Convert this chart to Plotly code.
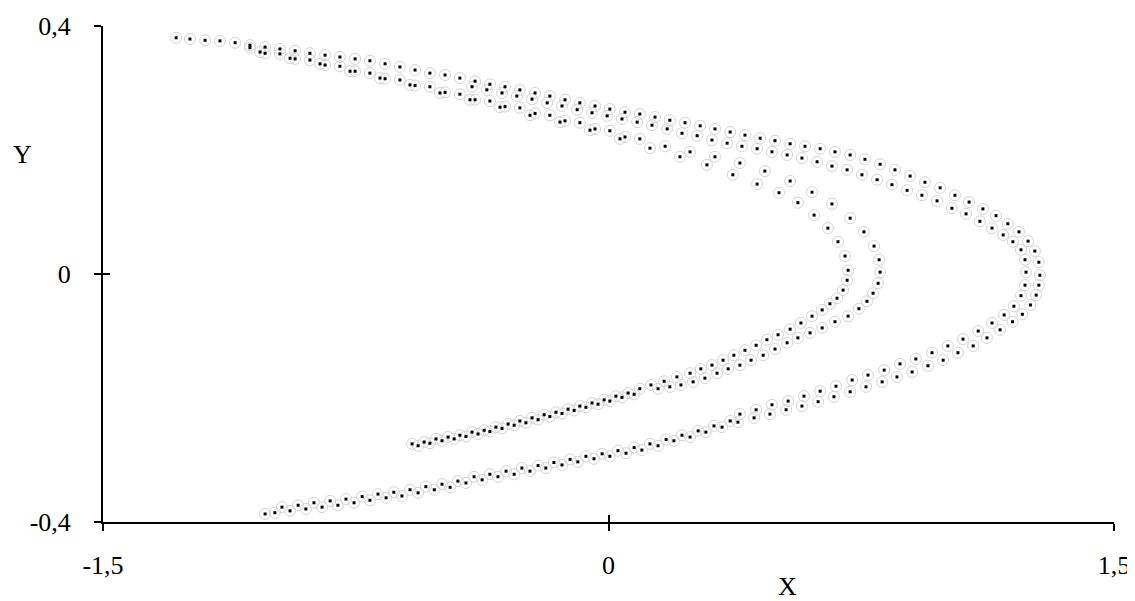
import plotly.graph_objects as go

# outermost strand, upper arm (tip -> apex)
a_up_x = [-1.283, -1.242, -1.197, -1.153, -1.108, -1.064, -1.019, -0.975, -0.930, -0.886,
          -0.841, -0.797, -0.752, -0.708, -0.663, -0.619, -0.574, -0.530, -0.485, -0.441,
          -0.396, -0.352, -0.307, -0.263, -0.218, -0.174, -0.129, -0.085, -0.040, 0.004,
          0.049, 0.093, 0.138, 0.182, 0.227, 0.272, 0.316, 0.361, 0.405, 0.450,
          0.494, 0.539, 0.583, 0.628, 0.672, 0.717, 0.761, 0.806, 0.850, 0.895,
          0.939, 0.984, 1.028, 1.070, 1.111, 1.150, 1.185, 1.218, 1.245, 1.265, 1.277]
a_up_y = [0.381, 0.379, 0.377, 0.376, 0.373, 0.369, 0.366, 0.363, 0.360, 0.356,
          0.353, 0.350, 0.347, 0.344, 0.339, 0.334, 0.329, 0.324, 0.321, 0.316,
          0.311, 0.306, 0.302, 0.297, 0.292, 0.287, 0.281, 0.276, 0.271, 0.266,
          0.261, 0.258, 0.253, 0.248, 0.244, 0.239, 0.234, 0.229, 0.224, 0.219,
          0.215, 0.210, 0.206, 0.202, 0.197, 0.192, 0.185, 0.177, 0.168, 0.158,
          0.148, 0.139, 0.127, 0.116, 0.105, 0.094, 0.081, 0.068, 0.053, 0.037, 0.019]

# outermost strand, lower arm (apex -> end)
a_lo_x = [1.280, 1.277, 1.269, 1.252, 1.228, 1.199, 1.162, 1.123, 1.082, 1.037,
          0.993, 0.948, 0.901, 0.856, 0.812, 0.764, 0.717, 0.669, 0.622, 0.574,
          0.527, 0.479, 0.432, 0.384, 0.337, 0.289, 0.242, 0.194, 0.147, 0.099,
          0.052, 0.004, -0.043, -0.091, -0.138, -0.186, -0.233, -0.280, -0.328, -0.375,
          -0.423, -0.470, -0.517, -0.565, -0.613, -0.660, -0.708, -0.755, -0.803, -0.850,
          -0.898, -0.945, -0.990, -1.019]
a_lo_y = [-0.002, -0.018, -0.034, -0.050, -0.065, -0.077, -0.090, -0.103, -0.116, -0.127,
          -0.139, -0.148, -0.158, -0.166, -0.174, -0.182, -0.190, -0.198, -0.206, -0.213,
          -0.219, -0.226, -0.232, -0.239, -0.247, -0.255, -0.263, -0.269, -0.277, -0.284,
          -0.289, -0.294, -0.298, -0.303, -0.308, -0.313, -0.318, -0.323, -0.327, -0.332,
          -0.337, -0.344, -0.348, -0.353, -0.358, -0.361, -0.365, -0.369, -0.373, -0.376,
          -0.379, -0.382, -0.385, -0.387]

# second row of dots along the outer lower arm
a2_lo_x = [0.361, 0.313, 0.266, 0.218, 0.171, 0.123, 0.076, 0.028, -0.019, -0.067,
           -0.114, -0.162, -0.209, -0.257, -0.304, -0.352, -0.399, -0.447, -0.494, -0.542,
           -0.589, -0.637, -0.684, -0.731, -0.779, -0.826, -0.874, -0.921, -0.969]
a2_lo_y = [-0.237, -0.245, -0.253, -0.260, -0.267, -0.274, -0.280, -0.285, -0.290, -0.294,
           -0.299, -0.304, -0.309, -0.313, -0.318, -0.323, -0.327, -0.334, -0.339, -0.343,
           -0.348, -0.352, -0.355, -0.359, -0.363, -0.366, -0.369, -0.373, -0.376]

# second outer strand
b_up_x = [-0.405, -0.361, -0.316, -0.272, -0.227, -0.182, -0.138, -0.093, -0.049, -0.004,
          0.040, 0.085, 0.129, 0.174, 0.218, 0.263, 0.307, 0.352, 0.396, 0.441,
          0.485, 0.530, 0.574, 0.619, 0.663, 0.708, 0.752, 0.797, 0.841, 0.886,
          0.930, 0.975, 1.019, 1.061, 1.102, 1.138, 1.171, 1.200, 1.224, 1.236]
b_up_y = [0.302, 0.297, 0.292, 0.287, 0.282, 0.276, 0.271, 0.265, 0.260, 0.255,
          0.250, 0.245, 0.240, 0.234, 0.227, 0.223, 0.216, 0.211, 0.206, 0.202,
          0.197, 0.192, 0.187, 0.181, 0.174, 0.168, 0.160, 0.152, 0.144, 0.135,
          0.127, 0.118, 0.106, 0.097, 0.085, 0.074, 0.063, 0.052, 0.039, 0.023]
b_lo_x = [1.239, 1.236, 1.224, 1.203, 1.174, 1.138, 1.097, 1.052, 1.007, 0.960,
          0.912, 0.865, 0.818, 0.770, 0.723, 0.675, 0.628, 0.580, 0.533, 0.485,
          0.438, 0.390]
b_lo_y = [0.003, -0.018, -0.035, -0.052, -0.066, -0.079, -0.092, -0.105, -0.116, -0.127,
          -0.137, -0.145, -0.155, -0.163, -0.171, -0.181, -0.189, -0.197, -0.205, -0.211,
          -0.219, -0.226]

# inner fold, outer strand
c_x = [-1.064, -0.975, -0.886, -0.797, -0.708, -0.619, -0.530, -0.441, -0.352, -0.263,
       -0.174, -0.085, 0.004, 0.093, 0.168, 0.242, 0.316, 0.390, 0.464, 0.539,
       0.604, 0.663, 0.717, 0.758, 0.788, 0.803, 0.806,
       0.800, 0.785, 0.767, 0.743, 0.711, 0.672, 0.634, 0.598, 0.562, 0.530,
       0.494, 0.459, 0.423, 0.390, 0.355, 0.322, 0.286, 0.251, 0.215, 0.182, 0.147]
c_y = [0.365, 0.355, 0.345, 0.335, 0.324, 0.313, 0.302, 0.290, 0.279, 0.268,
       0.256, 0.244, 0.231, 0.218, 0.206, 0.197, 0.189, 0.179, 0.166, 0.150,
       0.132, 0.113, 0.090, 0.068, 0.045, 0.023, 0.003,
       -0.015, -0.031, -0.044, -0.056, -0.068, -0.077, -0.087, -0.095, -0.103, -0.111,
       -0.121, -0.131, -0.139, -0.147, -0.153, -0.160, -0.168, -0.174, -0.179, -0.182, -0.185]

# extra row inside the inner band, upper arm
e_x = [-1.019, -0.930, -0.841, -0.752, -0.663, -0.574, -0.485, -0.396, -0.307, -0.218,
       -0.129, -0.040, 0.049]
e_y = [0.356, 0.347, 0.337, 0.327, 0.315, 0.304, 0.293, 0.281, 0.270, 0.259,
       0.247, 0.234, 0.221]

# inner fold, innermost strand
d_x = [-1.034, -0.945, -0.856, -0.767, -0.678, -0.589, -0.500, -0.411, -0.322, -0.233,
       -0.144, -0.055, 0.034, 0.123, 0.212, 0.292, 0.369, 0.441, 0.506, 0.562,
       0.610, 0.651, 0.681, 0.702, 0.711,
       0.708, 0.696, 0.678, 0.657, 0.634, 0.604, 0.571, 0.539, 0.503, 0.470,
       0.438, 0.405, 0.372, 0.340, 0.307, 0.274, 0.242, 0.203, 0.165, 0.126]
d_y = [0.358, 0.348, 0.339, 0.327, 0.316, 0.305, 0.292, 0.281, 0.269, 0.256,
       0.245, 0.232, 0.218, 0.203, 0.189, 0.176, 0.160, 0.145, 0.131, 0.115,
       0.095, 0.074, 0.052, 0.029, 0.006,
       -0.010, -0.026, -0.039, -0.048, -0.058, -0.068, -0.079, -0.089, -0.098, -0.106,
       -0.115, -0.123, -0.131, -0.139, -0.147, -0.153, -0.160, -0.166, -0.173, -0.179]

# inner lower arm where the two inner strands meet (two rows of dots)
g_x = [0.093, 0.058, 0.022, -0.013, -0.049, -0.085, -0.120, -0.156, -0.191, -0.227,
       -0.263, -0.298, -0.334, -0.369, -0.405, -0.441, -0.476, -0.512, -0.547, -0.583]
g_y = [-0.185, -0.192, -0.197, -0.203, -0.208, -0.213, -0.218, -0.223, -0.227, -0.232,
       -0.237, -0.242, -0.247, -0.252, -0.255, -0.260, -0.263, -0.266, -0.271, -0.274]
g2_x = [0.076, 0.040, 0.004, -0.031, -0.067, -0.102, -0.138, -0.174, -0.209, -0.245,
        -0.280, -0.316, -0.352, -0.387, -0.423, -0.458, -0.494, -0.530, -0.565]
g2_y = [-0.194, -0.199, -0.205, -0.210, -0.215, -0.220, -0.225, -0.230, -0.235, -0.240,
        -0.244, -0.249, -0.254, -0.258, -0.262, -0.266, -0.269, -0.273, -0.277]

tick_x = [-1.5, 0, 1.5]
tick_x_text = ["-1,5", "0", "1,5"]
tick_y = [-0.4, 0, 0.4]
tick_y_text = ["-0,4", "0", "0,4"]

xs = a_up_x + a_lo_x + a2_lo_x + b_up_x + b_lo_x + c_x + e_x + d_x + g_x + g2_x
ys = a_up_y + a_lo_y + a2_lo_y + b_up_y + b_lo_y + c_y + e_y + d_y + g_y + g2_y

FONT = "Liberation Serif, Times New Roman, serif"

fig = go.Figure()
# light grey ring round every point
fig.add_trace(go.Scatter(
    x=xs, y=ys, mode="markers", showlegend=False, hoverinfo="skip",
    marker=dict(symbol="circle-open", size=11, color="#d4d4d4", line=dict(width=1, color="#d4d4d4")),
))
# black dot in the middle
fig.add_trace(go.Scatter(
    x=xs, y=ys, mode="markers", showlegend=False, xaxis="x2", yaxis="y2",
    marker=dict(symbol="square", size=3, color="black", line=dict(width=0)),
))

axis_common = dict(showgrid=False, zeroline=False, tickwidth=2, ticklen=7,
                   tickcolor="black", automargin=False)

# the page body adds 8px around the figure, so the figure is 8px smaller
fig.update_layout(
    width=1127, height=593,
    margin=dict(l=95, r=21, t=18, b=79),
    plot_bgcolor="white", paper_bgcolor="white",
    font=dict(family=FONT, size=26, color="black"),
    xaxis=dict(range=[-1.5, 1.5], tickvals=tick_x, ticktext=tick_x_text, ticks="outside",
               showline=True, linewidth=2, linecolor="black", ticklabelstandoff=12,
               **axis_common),
    yaxis=dict(range=[-0.4, 0.4], tickvals=tick_y, ticktext=tick_y_text, ticks="outside",
               showline=True, linewidth=2, linecolor="black", ticklabelstandoff=18,
               **axis_common),
    xaxis2=dict(range=[-1.5, 1.5], tickvals=tick_x, ticks="inside", overlaying="x",
                side="bottom", anchor="y2", showticklabels=False, showline=False,
                **axis_common),
    yaxis2=dict(range=[-0.4, 0.4], tickvals=tick_y, ticks="inside", overlaying="y",
                side="left", anchor="x2", showticklabels=False, showline=False,
                **axis_common),
    annotations=[
        dict(text="X", xref="paper", yref="paper", x=0.677, y=-0.13,
             showarrow=False, xanchor="center", yanchor="middle", font=dict(size=26)),
        dict(text="Y", xref="paper", yref="paper", x=-0.080, y=0.740,
             showarrow=False, xanchor="center", yanchor="middle", font=dict(size=26)),
    ],
)

fig.write_html("out.html")
